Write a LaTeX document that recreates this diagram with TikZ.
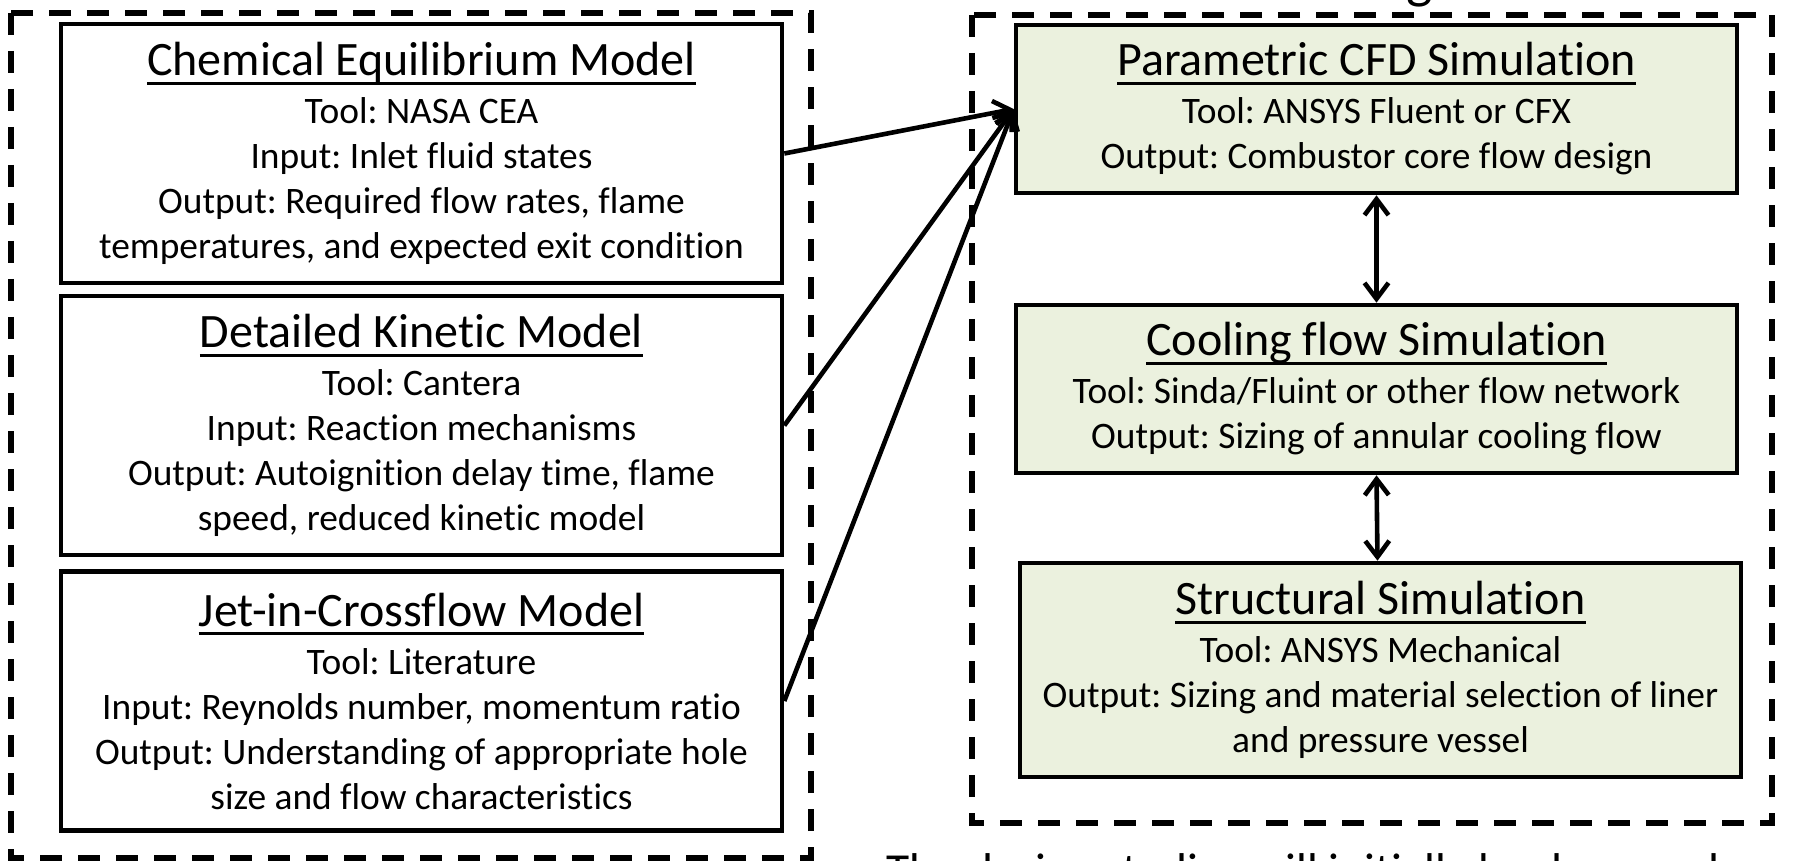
\documentclass[tikz,border=0pt]{standalone}
\usepackage{fontspec}
\setmainfont{Carlito}[Ligatures={NoCommon}]
\usetikzlibrary{arrows.meta,positioning}
\definecolor{simgreen}{RGB}{235,241,222}
\newsavebox{\ttlbox}
\newcommand{\uln}[1]{\sbox{\ttlbox}{#1}\rlap{\rule[-4.6pt]{\wd\ttlbox}{1.4pt}}\usebox{\ttlbox}}
\newcommand{\ttl}[1]{{\fontsize{24}{27}\selectfont\uln{#1}}}
\frenchspacing

\begin{document}
\begin{tikzpicture}[x=0.5pt,y=-0.5pt,
  modelbox/.style={draw, line width=2.3pt, align=center, inner sep=0pt,
    font=\fontsize{18.7}{22.5}\selectfont, minimum width=360.5pt},
  simbox/.style={modelbox, fill=simgreen},
  grpbox/.style={line width=2.6pt, dash pattern=on 11pt off 8pt},
  feed/.style={line width=2.3pt, -{Straight Barb[length=8pt,width=12pt]}},
  link/.style={line width=2.3pt, {Straight Barb[length=8pt,width=12pt]}-{Straight Barb[length=8pt,width=12pt]}}]
\useasboundingbox (0,0) rectangle (1810,861);
% dashed groups
\draw[grpbox] (11,13) rectangle (811,858);
\draw[grpbox] (972,15) rectangle (1772,823);
% heading above the right group, cut off by the page
\node[anchor=base, font=\fontsize{28}{32}\selectfont] (hdg) at (1420,-2) {g};
% models on the left
\node[modelbox, minimum height=129.5pt] (chem) at (421.5,153.5) {\ttl{Chemical Equilibrium Model}\\[1.5pt]
  Tool: NASA CEA\\ Input: Inlet fluid states\\ Output: Required flow rates, flame\\
  temperatures, and expected exit condition};
\node[modelbox, minimum height=129.5pt] (kin) at (421.5,425.5) {\ttl{Detailed Kinetic Model}\\[1.5pt]
  Tool: Cantera\\ Input: Reaction mechanisms\\ Output: Autoignition delay time, flame\\
  speed, reduced kinetic model};
\node[modelbox, minimum height=129.5pt] (jet) at (421.5,701) {\ttl{Jet-in-Crossflow Model}\\[1.5pt]
  Tool: Literature\\ Input: Reynolds number, momentum ratio\\ Output: Understanding of appropriate hole\\
  size and flow characteristics};
% simulations on the right
\node[simbox, minimum height=84pt] (cfd) at (1376.5,109) {\ttl{Parametric CFD Simulation}\\[1.5pt]
  Tool: ANSYS Fluent or CFX\\ Output: Combustor core flow design};
\node[simbox, minimum height=84pt] (cool) at (1376.5,389) {\ttl{Cooling flow Simulation}\\[1.5pt]
  Tool: Sinda/Fluint or other flow network\\ Output: Sizing of annular cooling flow};
\node[simbox, minimum height=107pt] (struct) at (1380.5,670) {\ttl{Structural Simulation}\\[1.5pt]
  Tool: ANSYS Mechanical\\ Output: Sizing and material selection of liner\\ and pressure vessel};
% connections
\draw[feed] (chem.east) -- (cfd.west);
\draw[feed] (kin.east) -- (cfd.west);
\draw[feed] (jet.east) -- (cfd.west);
\draw[link] (cfd.south) -- (cool.north);
\draw[link] (cool.south) -- ([xshift=-1.5pt]struct.north);
% text below, cut off by the page
\node[anchor=base west, font=\fontsize{23.7}{28}\selectfont] (note) at (879,886) {The design studies will initially be done and};
\end{tikzpicture}
\end{document}
